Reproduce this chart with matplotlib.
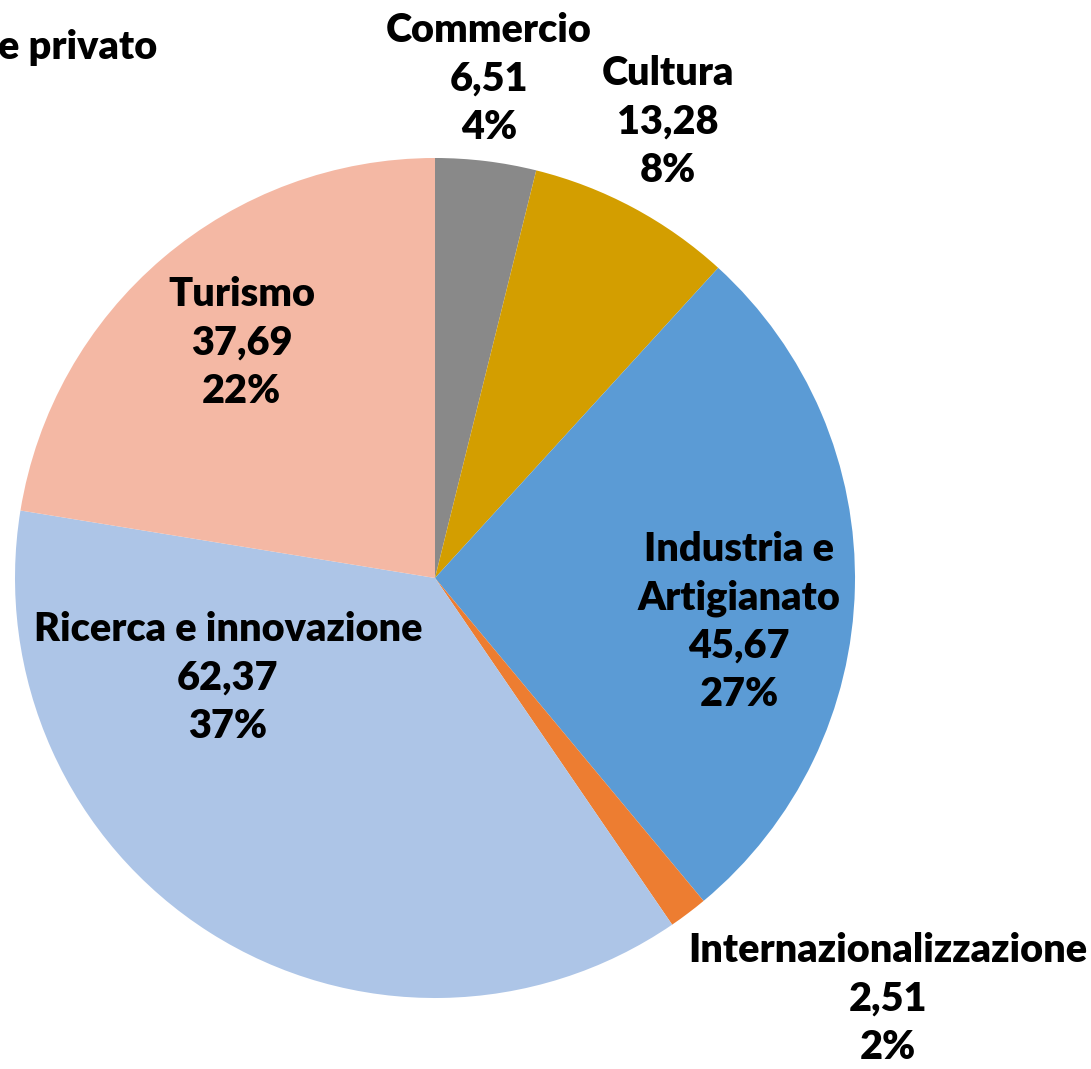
import matplotlib
matplotlib.use("Agg")
import matplotlib.pyplot as plt

# data (clockwise from 12 o'clock)
settori = ["Commercio", "Cultura", "Industria e\nArtigianato", "Internazionalizzazione",
           "Ricerca e innovazione", "Turismo"]
valori = [6.51, 13.28, 45.67, 2.51, 62.37, 37.69]
percentuali = [4, 8, 27, 2, 37, 22]
colori = ["#898989", "#D39E00", "#5B9BD5", "#ED7D31", "#ADC5E7", "#F4B8A4"]

# label centres in pie units (radius = 1)
pos_etichette = [(0.129, 1.188), (0.555, 1.086), (0.724, -0.105), (1.079, -1.002),
                 (-0.493, -0.238), (-0.460, 0.560)]

W, H = 1091, 1069
cx, cy, r = 435, 578, 420

plt.rcParams["font.family"] = ["Lato", "DejaVu Sans"]
fig = plt.figure(figsize=(W / 100, H / 100), dpi=100)
ax = fig.add_axes([(cx - r) / W, (H - cy - r) / H, 2 * r / W, 2 * r / H])
ax.pie(valori, colors=colori, startangle=90, counterclock=False,
       wedgeprops=dict(linewidth=0))
ax.set_xlim(-1, 1)
ax.set_ylim(-1, 1)

for nome, v, p, (x, y) in zip(settori, valori, percentuali, pos_etichette):
    testo = f"{nome}\n{v:.2f}".replace(".", ",") + f"\n{p}%"
    ax.text(x, y, testo, ha="center", va="center", fontsize=28.5, fontweight="heavy",
            linespacing=1.38, clip_on=False)

fig.text(157 / W, 1 - 48 / H, "e privato", ha="right", va="center",
         fontsize=28.5, fontweight="heavy")

fig.savefig("out.png", dpi=100)
